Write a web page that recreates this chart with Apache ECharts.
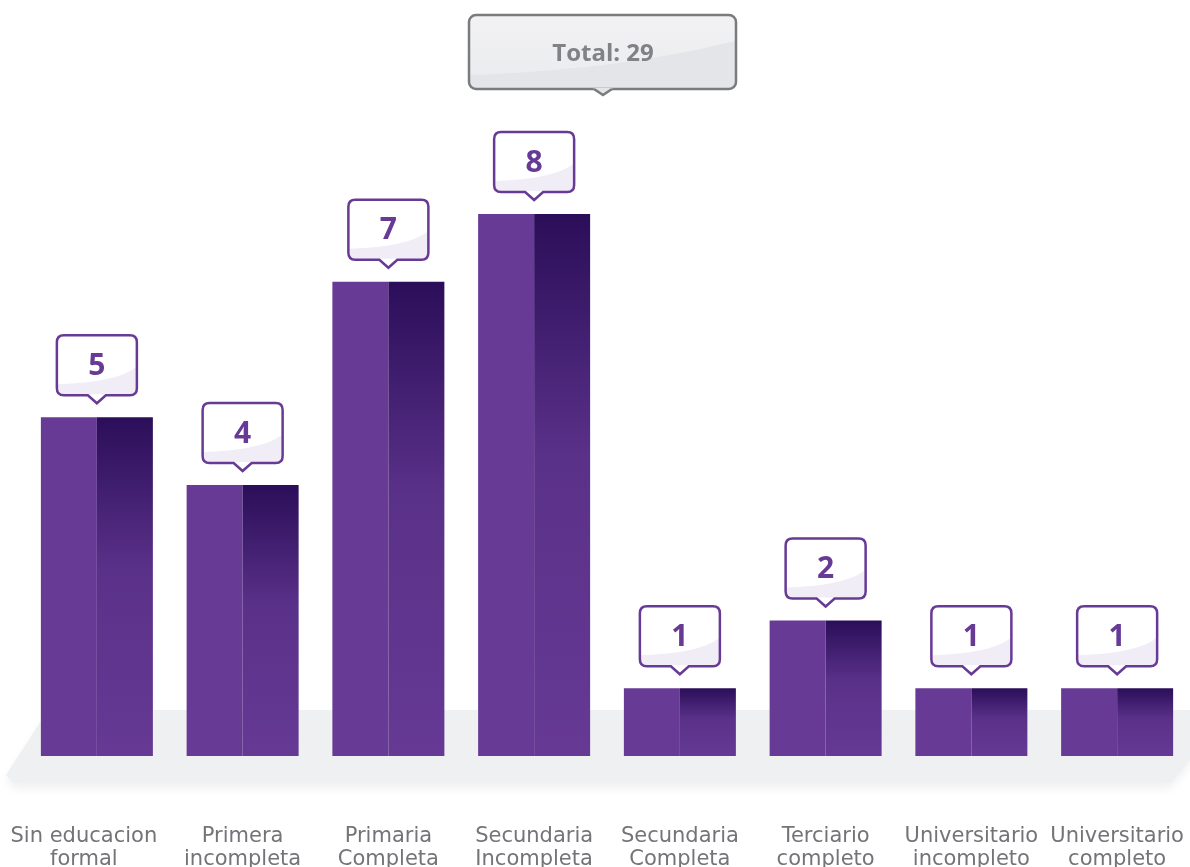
<!DOCTYPE html>
<html>
<head>
<meta charset="utf-8">
<script src="https://cdn.jsdelivr.net/npm/echarts@6/dist/echarts.min.js"></script>
<style>
  html, body { margin: 0; padding: 0; background: #fff; }
  #main { width: 1190px; height: 867px; }
</style>
</head>
<body>
<div id="main"></div>
<script>
// datos
var categories = ['Sin educacion formal', 'Primera incompleta', 'Primaria Completa', 'Secundaria Incompleta',
  'Secundaria Completa', 'Terciario completo', 'Universitario incompleto', 'Universitario completo'];
var values = [5, 4, 7, 8, 1, 2, 1, 1];
var total = values.reduce(function (a, b) { return a + b; }, 0);

var purple = '#673a96';

var myChart = echarts.init(document.getElementById('main'));

// globo de cada barra
function renderCallout(params, api) {
  var p = api.coord([api.value(0), api.value(1)]);
  var cx = p[0];
  var tip = p[1] - 14;
  var w = 80, h = 60, r = 7, pw = 9, ph = 8;
  var L = cx - w / 2, R = cx + w / 2, B = tip - ph, T = B - h;
  var d = 'M' + (L + r) + ',' + T +
    ' L' + (R - r) + ',' + T + ' Q' + R + ',' + T + ' ' + R + ',' + (T + r) +
    ' L' + R + ',' + (B - r) + ' Q' + R + ',' + B + ' ' + (R - r) + ',' + B +
    ' L' + (cx + pw) + ',' + B + ' L' + cx + ',' + tip + ' L' + (cx - pw) + ',' + B +
    ' L' + (L + r) + ',' + B + ' Q' + L + ',' + B + ' ' + L + ',' + (B - r) +
    ' L' + L + ',' + (T + r) + ' Q' + L + ',' + T + ' ' + (L + r) + ',' + T + ' Z';
  var swoosh = 'M' + (L + 1) + ',' + (B - 11) +
    ' Q' + (cx + 20) + ',' + (B - 13) + ' ' + (R - 1) + ',' + (B - 28) +
    ' L' + (R - 1) + ',' + (B - r) + ' Q' + (R - 1) + ',' + (B - 1) + ' ' + (R - r) + ',' + (B - 1) +
    ' L' + (L + r) + ',' + (B - 1) + ' Q' + (L + 1) + ',' + (B - 1) + ' ' + (L + 1) + ',' + (B - r) + ' Z';
  return {
    type: 'group',
    children: [
      { type: 'path', shape: { pathData: d }, style: { fill: '#ffffff', stroke: null } },
      { type: 'path', shape: { pathData: swoosh }, style: { fill: '#f1edf7' } },
      { type: 'path', shape: { pathData: d }, style: { fill: 'none', stroke: purple, lineWidth: 2.5 } },
      {
        type: 'text',
        style: {
          text: String(api.value(1)), x: cx, y: T + h / 2 + 1,
          align: 'center', verticalAlign: 'middle',
          font: 'bold 30px "Open Sans", sans-serif', fill: purple
        }
      }
    ]
  };
}

// curva del brillo de la caja total
var swooshPts = [];
for (var k = 0; k <= 20; k++) {
  var t = k / 20;
  var x = (1 - t) * (1 - t) * 1 + 2 * (1 - t) * t * 150 + t * t * 266;
  var y = (1 - t) * (1 - t) * 60 + 2 * (1 - t) * t * 55 + t * t * 26;
  swooshPts.push([x, y]);
}
swooshPts.push([266, 70], [262, 73], [5, 73], [1, 70]);

// etiquetas: la primera queda algo corrida a la izquierda
var xData = categories.map(function (c, i) {
  return i === 0 ? { value: c, textStyle: { padding: [0, 26, 0, 0] } } : c;
});

var option = {
  backgroundColor: '#ffffff',
  animation: false,
  grid: { left: 24, right: 0, top: 214, bottom: 111, outerBoundsMode: 'none', containLabel: false },
  xAxis: {
    type: 'category',
    data: xData,
    axisLine: { show: false },
    axisTick: { show: false },
    axisLabel: {
      interval: 0,
      margin: 69,
      color: '#737478',
      fontSize: 21,
      lineHeight: 23,
      fontFamily: 'DejaVu Sans',
      formatter: function (v) {
        var i = v.lastIndexOf(' ');
        return v.slice(0, i) + '\n' + v.slice(i + 1);
      }
    }
  },
  yAxis: {
    type: 'value', min: 0, max: 8,
    show: false, splitLine: { show: false }
  },
  graphic: [
    // piso gris
    {
      type: 'polygon', z: -10,
      shape: { points: [[48, 710], [1190, 710], [1190, 760], [1170, 783], [14, 783], [6, 775]] },
      style: { fill: '#eff0f2', shadowBlur: 10, shadowColor: 'rgba(0,0,0,0.06)', shadowOffsetY: 6 }
    },
    // caja total
    {
      type: 'group', x: 469, y: 15,
      children: [
        {
          type: 'rect', shape: { x: 0, y: 0, width: 267, height: 74, r: 7 },
          style: {
            fill: { type: 'linear', x: 0, y: 0, x2: 0, y2: 1,
              colorStops: [{ offset: 0, color: '#f2f2f4' }, { offset: 1, color: '#eaebee' }] }
          }
        },
        { type: 'polygon', shape: { points: swooshPts }, style: { fill: '#e4e5e8' } },
        { type: 'rect', shape: { x: 0, y: 0, width: 267, height: 74, r: 7 },
          style: { fill: 'none', stroke: '#7a7b7e', lineWidth: 2.5 } },
        { type: 'polygon', shape: { points: [[124, 73], [144, 73], [134, 80]] }, style: { fill: '#e4e5e8' } },
        { type: 'polyline', shape: { points: [[125, 74], [134, 80], [143, 74]] },
          style: { fill: 'none', stroke: '#7a7b7e', lineWidth: 2.5 } },
        {
          type: 'text', x: 134, y: 39,
          style: {
            text: 'Total: ' + total, align: 'center', verticalAlign: 'middle',
            font: 'bold 24px "Open Sans", sans-serif', fill: '#808285'
          }
        }
      ]
    }
  ],
  series: [
    {
      type: 'bar', barWidth: 56, barGap: 0,
      itemStyle: { color: purple },
      data: values
    },
    {
      type: 'bar', barWidth: 56, barGap: 0,
      itemStyle: {
        color: { type: 'linear', x: 0, y: 0, x2: 0, y2: 1, colorStops: [
          { offset: 0, color: '#2b0e59' },
          { offset: 0.45, color: '#5a3189' },
          { offset: 1, color: '#653994' }
        ] }
      },
      data: values
    },
    {
      type: 'custom',
      renderItem: renderCallout,
      clip: false,
      z: 5,
      data: values.map(function (v, i) { return [i, v]; })
    }
  ]
};

option && myChart.setOption(option);
</script>
</body>
</html>
